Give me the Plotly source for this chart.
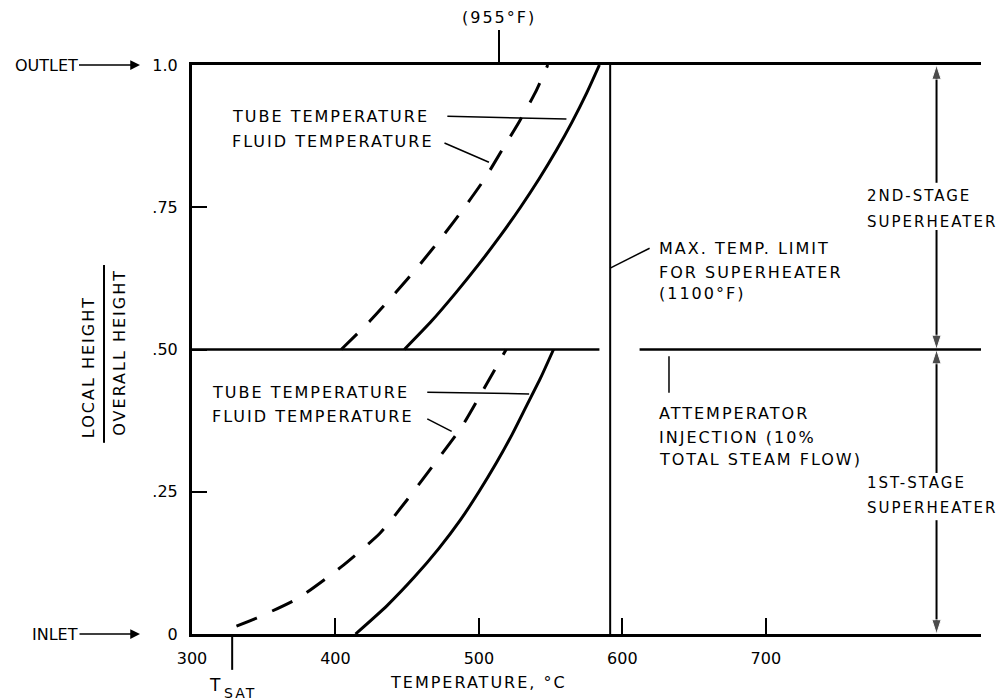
import plotly.graph_objects as go

# ---------------- data ----------------
# 2nd-stage superheater (upper half): local height / overall height vs temperature (C)
h_upper_tube = [0.50, 0.55, 0.60, 0.65, 0.70, 0.75, 0.80, 0.85, 0.90, 0.95, 1.00]
t_upper_tube = [448, 467, 484, 500, 515, 529, 542, 554, 565, 575, 584]
h_upper_fluid = [0.50, 0.55, 0.60, 0.65, 0.70, 0.75, 0.80, 0.85, 0.90, 0.95, 1.00]
t_upper_fluid = [404, 424, 442, 459, 475, 490, 504, 516, 528, 539, 548]
# 1st-stage superheater (lower half)
h_lower_tube = [0.00, 0.05, 0.10, 0.15, 0.20, 0.25, 0.30, 0.35, 0.40, 0.45, 0.50]
t_lower_tube = [414, 436, 455, 472, 487, 500, 512, 523, 533, 543, 552]
h_lower_fluid = [0.014, 0.028, 0.063, 0.118, 0.177, 0.236, 0.306, 0.364, 0.429, 0.50]
t_lower_fluid = [331, 345, 374, 404, 431, 450, 471, 488, 503, 519]

T_SAT = 328                 # saturation temperature, C
T_LIMIT = 591.5             # max temp limit for superheater (1100 F), C
T_955F = 514                # 955 F marker, C
H_ATTEMP = 0.50             # attemperator injection height
T_ATTEMP_GAP = [584, 612]   # gap in the 0.5 line around the limit line
T_STAGE_ARROW = 819         # x position of the stage arrows

x_range = [300, 850]
x_tickvals = [300, 400, 500, 600, 700]
x_ticktext = ["300", "400", "500", "600", "700"]
y_tickvals = [0, 0.25, 0.50, 0.75, 1.0]
y_ticktext = ["0", ".25", ".50", ".75", "1.0"]

FONT = "DejaVu Sans"
BLACK = "black"

fig = go.Figure()


def curve(t, h, dash):
    fig.add_trace(go.Scatter(
        x=t, y=h, mode="lines",
        line=dict(color=BLACK, width=3, dash=dash, shape="spline", smoothing=0.6),
        hoverinfo="skip", showlegend=False))


curve(t_upper_tube, h_upper_tube, "solid")
curve(t_upper_fluid, h_upper_fluid, "22px,17px")
curve(t_lower_tube, h_lower_tube, "solid")
curve(t_lower_fluid, h_lower_fluid, "22px,17px")

# double-headed stage arrows (1.0 <-> 0.5 and 0.5 <-> 0)
for tail, head in [(0.793, 1.0), (0.710, 0.5), (0.283, 0.5), (0.200, 0.0)]:
    fig.add_trace(go.Scatter(
        x=[T_STAGE_ARROW, T_STAGE_ARROW], y=[tail, head], mode="lines+markers",
        line=dict(color=BLACK, width=2),
        marker=dict(symbol="arrow", angleref="previous", size=[1, 15], color=BLACK),
        hoverinfo="skip", showlegend=False))


def seg(x0, y0, x1, y1, width=2, xref="x", yref="y"):
    fig.add_shape(type="line", x0=x0, y0=y0, x1=x1, y1=y1, xref=xref, yref=yref,
                  line=dict(color=BLACK, width=width))


def text(s, x, y, xanchor="left", yanchor="middle", xref="x", yref="y", size=16, angle=0):
    fig.add_annotation(text=s, x=x, y=y, xref=xref, yref=yref, xanchor=xanchor,
                       yanchor=yanchor, showarrow=False, textangle=angle,
                       align="left" if xanchor == "left" else "center",
                       font=dict(family=FONT, size=size, color=BLACK))


# structural lines
seg(x_range[0], H_ATTEMP, T_ATTEMP_GAP[0], H_ATTEMP, width=2.5)
seg(T_ATTEMP_GAP[1], H_ATTEMP, x_range[1], H_ATTEMP, width=2.5)
seg(T_LIMIT, 0, T_LIMIT, 1, width=2)
seg(T_955F, 1.0, T_955F, 1.0615, width=2, yref="paper")
seg(T_SAT, 0, T_SAT, -0.063, width=2, yref="paper")

# curve labels and leaders (upper)
text("TUBE TEMPERATURE", 326.5, 0.909)
text("FLUID TEMPERATURE", 326.5, 0.865)
seg(478, 0.910, 561, 0.905, width=1.5)
seg(476, 0.863, 507, 0.829, width=1.5)
# curve labels and leaders (lower)
text("TUBE TEMPERATURE", 312.5, 0.425)
text("FLUID TEMPERATURE", 312.5, 0.383)
seg(464, 0.425, 535, 0.422, width=1.5)
seg(464, 0.378, 481, 0.356, width=1.5)

# max temp limit label
seg(T_LIMIT, 0.643, 619, 0.678, width=1.5)
text("MAX. TEMP. LIMIT", 624, 0.678)
text("FOR SUPERHEATER", 624, 0.636)
text("(1100°F)", 624, 0.598)

# attemperator label
seg(632.5, 0.488, 632.5, 0.424, width=1.5)
text("ATTEMPERATOR", 624, 0.388)
text("INJECTION (10%", 624, 0.346)
text("TOTAL STEAM FLOW)", 624, 0.306)

# stage labels
text("2ND-STAGE", 769, 0.770, size=15)
text("SUPERHEATER", 769, 0.724, size=15)
text("1ST-STAGE", 769, 0.265, size=15)
text("SUPERHEATER", 769, 0.221, size=15)

# top marker label
text("(955°F)", T_955F, 1.083, xanchor="center", yref="paper")

# outlet / inlet
for label, yv, ax in [("OUTLET", 1.0, -94), ("INLET", 0.0, -85)]:
    fig.add_annotation(text=label, x=-0.0659, y=yv, xref="paper", yref="paper",
                       ax=ax, ay=0, showarrow=True, arrowhead=2, arrowsize=1.3,
                       arrowwidth=1.5, arrowcolor=BLACK, standoff=0,
                       font=dict(family=FONT, size=16, color=BLACK))

# x-axis labels: T with subscript SAT, and the axis title
text("T", 316.7, -0.0888, xanchor="center", yref="paper", size=17)
text("SAT", 333.8, -0.103, xanchor="center", yref="paper", size=14)
text("TEMPERATURE, °C", 500, -0.086, xanchor="center", yref="paper")

# y-axis title as a fraction
text("LOCAL HEIGHT", -0.1318, 0.469, xanchor="center", xref="paper", yref="paper", angle=-90)
text("OVERALL HEIGHT", -0.0913, 0.496, xanchor="center", xref="paper", yref="paper", angle=-90)
seg(-0.1115, 0.336, -0.1115, 0.6485, width=2, xref="paper", yref="paper")

# the page body has an 8px margin, so the figure is offset by 8px; margins compensate
fig.update_layout(
    width=1005, height=700,
    margin=dict(l=184, r=32, t=57, b=74),
    paper_bgcolor="white", plot_bgcolor="white",
    showlegend=False,
    font=dict(family=FONT, size=16, color=BLACK),
)
fig.update_xaxes(range=x_range, showline=True, linewidth=3, linecolor=BLACK,
                 mirror=True, ticks="inside", ticklen=16, tickwidth=2,
                 tickcolor=BLACK, tickvals=x_tickvals, ticktext=x_ticktext,
                 showgrid=False, zeroline=False, ticklabelstandoff=8,
                 tickfont=dict(family=FONT, size=16, color=BLACK))
fig.update_yaxes(range=[0, 1], showline=True, linewidth=3, linecolor=BLACK,
                 ticks="inside", ticklen=15, tickwidth=2, tickcolor=BLACK,
                 tickvals=y_tickvals, ticktext=y_ticktext,
                 showgrid=False, zeroline=False, ticklabelstandoff=8,
                 tickfont=dict(family=FONT, size=16, color=BLACK))

# the reference lettering is widely spaced
spacing_js = (
    "document.querySelectorAll('.annotation-text').forEach(function(t){"
    "if(['OUTLET','INLET'].indexOf(t.textContent)<0){t.style.letterSpacing='2px';}});"
)
fig.write_html("out.html", post_script=spacing_js)
